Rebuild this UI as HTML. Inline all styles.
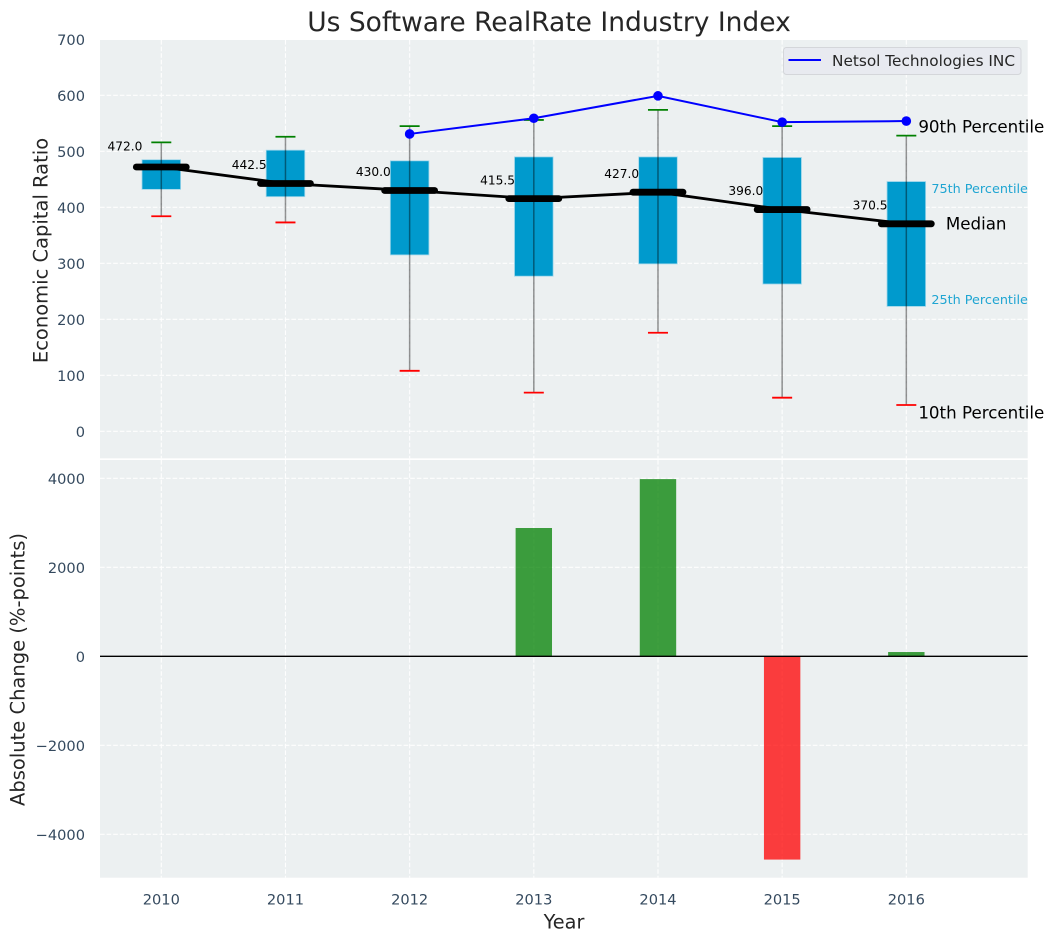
<!DOCTYPE html>
<html lang="en">
<head>
<meta charset="utf-8">
<title>Us Software RealRate Industry Index</title>
<style>
html,body{margin:0;padding:0;background:#fff;}
svg{display:block;font-family:"DejaVu Sans","Liberation Sans",sans-serif;}
</style>
</head>
<body>
<svg id="chart" xmlns="http://www.w3.org/2000/svg" width="1053" height="942" viewBox="0 0 1053 942">
  <rect x="100" y="40" width="927.7" height="418.3" fill="#ecf0f1"/>
  <rect x="100" y="460" width="927.7" height="417.7" fill="#ecf0f1"/>
  <g id="grid"></g>
  <g id="marks"></g>
  <g id="axes"></g>
  <text x="549" y="31" font-size="26.5" fill="#262626" text-anchor="middle">Us Software RealRate Industry Index</text>
  <text transform="translate(47.5,250.5) rotate(-90)" font-size="19.5" fill="#262626" text-anchor="middle">Economic Capital Ratio</text>
  <text transform="translate(24.5,669.5) rotate(-90)" font-size="19.5" fill="#262626" text-anchor="middle">Absolute Change (%-points)</text>
  <text x="564" y="928.5" font-size="19.3" fill="#262626" text-anchor="middle">Year</text>
  <g>
    <rect x="783.5" y="47.5" width="237.5" height="27" rx="3" fill="#e8eaf0" stroke="#d4d6da" stroke-width="1"/>
    <line x1="788.5" x2="821" y1="60" y2="60" stroke="#0000ff" stroke-width="2"/>
    <text x="832" y="66" font-size="15.3" fill="#262626">Netsol Technologies INC</text>
  </g>
</svg>
<script>
const years = [2010, 2011, 2012, 2013, 2014, 2015, 2016];
const p90 = [516, 526, 545, 556, 574, 545, 528];
const p75 = [485, 502, 483, 490, 490, 489, 446];
const median = [472.0, 442.5, 430.0, 415.5, 427.0, 396.0, 370.5];
const p25 = [432, 419, 315, 277, 299, 263, 223];
const p10 = [384, 373, 108, 69, 176, 60, 47];
const netsolYears = [2012, 2013, 2014, 2015, 2016];
const netsolValues = [531, 559, 599, 552, 554];
const changeYears = [2013, 2014, 2015, 2016];
const changeValues = [2883, 3982, -4568, 96];
const upperTicks = [0, 100, 200, 300, 400, 500, 600, 700];
const lowerTicks = [-4000, -2000, 0, 2000, 4000];

const NS = 'http://www.w3.org/2000/svg';
const gridG = document.getElementById('grid');
const marksG = document.getElementById('marks');
const axesG = document.getElementById('axes');

function xScale(year) { return 161.3 + (year - 2010) * 124.17; }
function yUpper(v) { return 431.3 - v * 0.56; }
function yLower(v) { return 656.3 - v * 0.0445; }

function make(tag, parent, attrs, content) {
  const el = document.createElementNS(NS, tag);
  for (const key in attrs) el.setAttribute(key, attrs[key]);
  if (content !== undefined) el.textContent = content;
  parent.appendChild(el);
  return el;
}
function fmtTick(v) { return v < 0 ? '\u2212' + Math.abs(v) : String(v); }

const gridStyle = { stroke: '#ffffff', 'stroke-width': 1.1, 'stroke-dasharray': '4.6 2', opacity: 0.95 };

years.forEach(function (yr) {
  const g1 = make('line', gridG, Object.assign({ x1: xScale(yr), x2: xScale(yr), y1: 40, y2: 458.3 }, gridStyle));
  
  
  const g2 = make('line', gridG, Object.assign({ x1: xScale(yr), x2: xScale(yr), y1: 460, y2: 877.7 }, gridStyle));
  
  
  const label = make('text', axesG, { x: xScale(yr), y: 904.7, 'font-size': 14.6, fill: '#34495e', 'text-anchor': 'middle' }, String(yr));
  
  
});

upperTicks.forEach(function (t) {
  const g = make('line', gridG, Object.assign({ x1: 100, x2: 1027.7, y1: yUpper(t), y2: yUpper(t) }, gridStyle));
  
  
  const label = make('text', axesG, { x: 85, y: yUpper(t) + 5.7, 'font-size': 14.6, fill: '#34495e', 'text-anchor': 'end' }, fmtTick(t));
  
  
});

lowerTicks.forEach(function (t) {
  const g = make('line', gridG, Object.assign({ x1: 100, x2: 1027.7, y1: yLower(t), y2: yLower(t) }, gridStyle));
  
  
  const label = make('text', axesG, { x: 85, y: yLower(t) + 5.7, 'font-size': 14.6, fill: '#34495e', 'text-anchor': 'end' }, fmtTick(t));
  
  
});

/* boxes */
years.forEach(function (yr, i) {
  const box = make('rect', marksG, {
    x: xScale(yr) - 19.3, width: 38.6,
    y: yUpper(p75[i]), height: yUpper(p25[i]) - yUpper(p75[i]),
    fill: '#009acd', stroke: '#9fd6ea', 'stroke-width': 0.8
  });
  
  
});

/* whiskers and caps */
years.forEach(function (yr, i) {
  const cx = xScale(yr);
  const w = make('line', marksG, { x1: cx, x2: cx, y1: yUpper(p90[i]), y2: yUpper(p10[i]), stroke: '#000000', 'stroke-opacity': 0.42, 'stroke-width': 1.5 });
  
  
  const top = make('line', marksG, { x1: cx - 10, x2: cx + 10, y1: yUpper(p90[i]), y2: yUpper(p90[i]), stroke: '#008000', 'stroke-width': 1.8 });
  
  
  const bottom = make('line', marksG, { x1: cx - 10, x2: cx + 10, y1: yUpper(p10[i]), y2: yUpper(p10[i]), stroke: '#ff0000', 'stroke-width': 1.8 });
  
  
});

/* netsol series */
const netsolLine = make('polyline', marksG, {
  points: netsolYears.map(function (yr, i) { return xScale(yr) + ',' + yUpper(netsolValues[i]); }).join(' '),
  fill: 'none', stroke: '#0000ff', 'stroke-width': 2
});


netsolYears.forEach(function (yr, i) {
  const dot = make('circle', marksG, { cx: xScale(yr), cy: yUpper(netsolValues[i]), r: 4.8, fill: '#0000ff' });
  
  
});

/* median connector and thick dashes */
const medianLine = make('polyline', marksG, {
  points: years.map(function (yr, i) { return xScale(yr) + ',' + yUpper(median[i]); }).join(' '),
  fill: 'none', stroke: '#000000', 'stroke-width': 2.8
});


years.forEach(function (yr, i) {
  const cx = xScale(yr);
  const bar = make('line', marksG, { x1: cx - 25, x2: cx + 25, y1: yUpper(median[i]), y2: yUpper(median[i]), stroke: '#000000', 'stroke-width': 6.8, 'stroke-linecap': 'round' });
  
  
  const lift = i === 0 ? 16.5 : 14.3;
  const label = make('text', marksG, { x: cx - 36.3, y: yUpper(median[i]) - lift, 'font-size': 12.2, fill: '#000000', 'text-anchor': 'middle' }, median[i].toFixed(1));
  
  
});

/* percentile annotations anchored on the last box */
const last = years.length - 1;
const lastX = xScale(years[last]);
const note90 = make('text', marksG, { x: lastX + 12, y: yUpper(p90[last]) - 3, 'font-size': 16.7, fill: '#000000' }, '90th Percentile');


const note10 = make('text', marksG, { x: lastX + 12, y: yUpper(p10[last]) + 13.7, 'font-size': 16.7, fill: '#000000' }, '10th Percentile');


const noteMed = make('text', marksG, { x: lastX + 39.5, y: yUpper(median[last]) + 5.7, 'font-size': 16.7, fill: '#000000' }, 'Median');


const note75 = make('text', marksG, { x: lastX + 25, y: yUpper(p75[last]) + 11.7, 'font-size': 12.8, fill: '#1fa5d2' }, '75th Percentile');


const note25 = make('text', marksG, { x: lastX + 25, y: yUpper(p25[last]) - 2.6, 'font-size': 12.8, fill: '#1fa5d2' }, '25th Percentile');



/* change bars */
changeYears.forEach(function (yr, i) {
  const v = changeValues[i];
  const bar = make('rect', marksG, {
    x: xScale(yr) - 18.2, width: 36.4,
    y: Math.min(yLower(v), yLower(0)), height: Math.abs(yLower(v) - yLower(0)),
    fill: v >= 0 ? '#008000' : '#ff0000', 'fill-opacity': 0.75
  });
  
  
});
const zero = make('line', marksG, { x1: 100, x2: 1027.7, y1: yLower(0), y2: yLower(0), stroke: '#000000', 'stroke-width': 1.3 });


</script>
</body>
</html>
